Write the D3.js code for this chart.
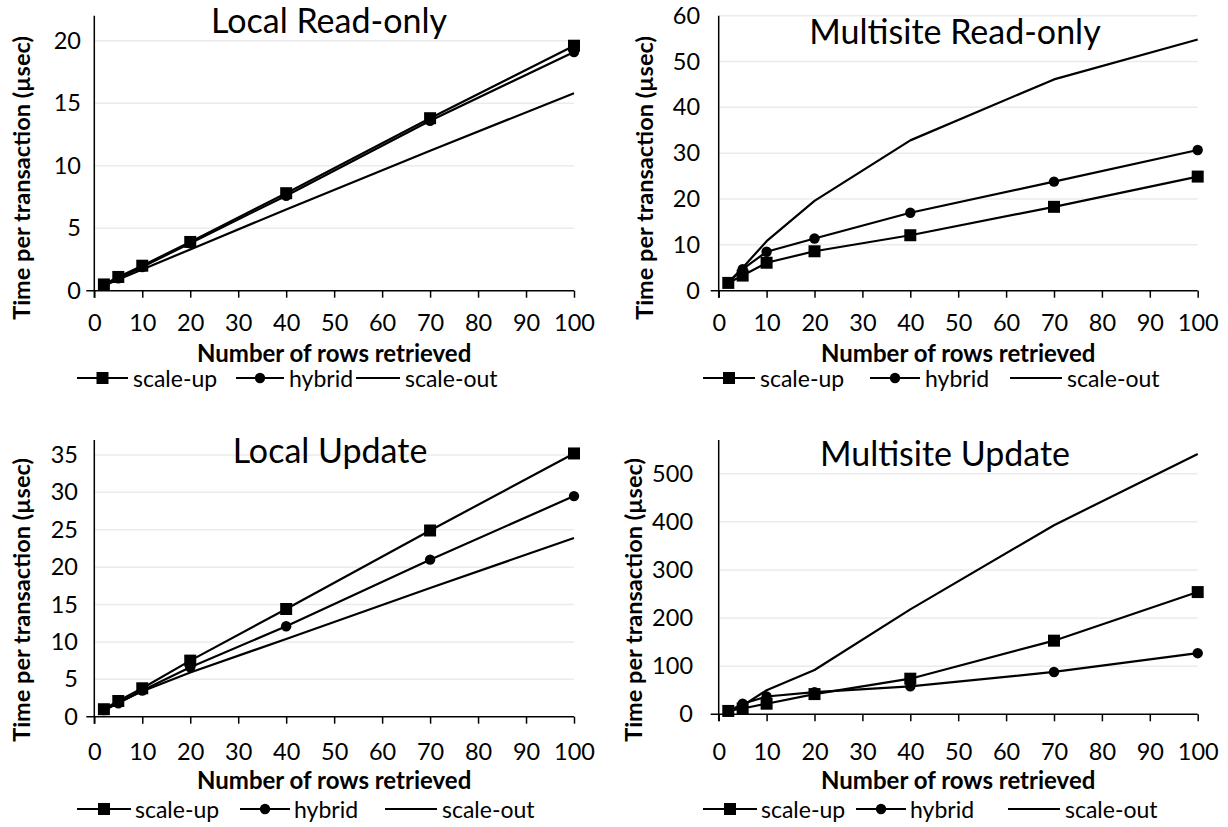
<!DOCTYPE html>
<html>
<head>
<meta charset="utf-8">
<script src="https://cdn.jsdelivr.net/npm/d3@7"></script>
<style>
  body { margin: 0; background: #fff; }
  svg { display: block; font-family: Lato, "Open Sans", sans-serif; }
</style>
</head>
<body>
<div id="viz"></div>
<script>
// rows retrieved (x values shared by all four charts)
var rows = [2, 5, 10, 20, 40, 70, 100];
var xTicks = [0, 10, 20, 30, 40, 50, 60, 70, 80, 90, 100];
var seriesNames = ['scale-up', 'hybrid', 'scale-out'];

// Local Read-only
var localReadUp = [0.5, 1.1, 2.0, 3.9, 7.8, 13.8, 19.6];
var localReadHybrid = [0.5, 1.0, 1.9, 3.8, 7.6, 13.6, 19.1];
var localReadOut = [0.4, 0.9, 1.7, 3.3, 6.5, 11.2, 15.8];
var localReadTicks = [0, 5, 10, 15, 20];

// Multisite Read-only
var multiReadUp = [1.7, 3.3, 6.1, 8.6, 12.1, 18.3, 24.9];
var multiReadHybrid = [1.8, 4.7, 8.5, 11.4, 17.0, 23.8, 30.7];
var multiReadOut = [1.8, 5.0, 10.8, 19.6, 32.8, 46.1, 54.8];
var multiReadTicks = [0, 10, 20, 30, 40, 50, 60];

// Local Update
var localUpdUp = [1.0, 2.1, 3.8, 7.5, 14.4, 24.9, 35.2];
var localUpdHybrid = [0.9, 1.8, 3.5, 6.6, 12.1, 21.0, 29.5];
var localUpdOut = [0.8, 1.9, 3.4, 5.9, 10.4, 17.2, 23.9];
var localUpdTicks = [0, 5, 10, 15, 20, 25, 30, 35];

// Multisite Update
var multiUpdUp = [7, 12, 22, 42, 74, 153, 254];
var multiUpdHybrid = [6, 22, 37, 46, 58, 88, 127];
var multiUpdOut = [6, 18, 50, 92, 218, 393, 541];
var multiUpdTicks = [0, 100, 200, 300, 400, 500];

var width = 1228, height = 827;

var svg = d3.select('#viz')
  .append('svg')
  .attr('width', width)
  .attr('height', height);

// layout of each panel (pixel positions)
var panels = [
  {title: 'Local Read-only', series: [localReadUp, localReadHybrid, localReadOut], ticks: localReadTicks, yMax: 22,
   x0: 94.3, x1: 574, y0: 290.7, y1: 15.7, titleX: 329, titleY: 33, labelRight: 81,
   yTitleX: 21, yTitleY: 178, xTickY: 323, xTitleY: 352, legendY: 378,
   legend: [[77, 128, 133], [236, 284, 289], [356, 400, 405]]},
  {title: 'Multisite Read-only', series: [multiReadUp, multiReadHybrid, multiReadOut], ticks: multiReadTicks, yMax: 60,
   x0: 718.7, x1: 1197.7, y0: 290.7, y1: 15.7, titleX: 955, titleY: 44, labelRight: 700,
   yTitleX: 644, yTitleY: 178, xTickY: 323, xTitleY: 352, legendY: 378,
   legend: [[703, 755, 760], [870, 920, 925], [1010, 1062, 1067]]},
  {title: 'Local Update', series: [localUpdUp, localUpdHybrid, localUpdOut], ticks: localUpdTicks, yMax: 37,
   x0: 94.3, x1: 574, y0: 716.7, y1: 440, titleX: 330, titleY: 463, labelRight: 78,
   yTitleX: 21, yTitleY: 600, xTickY: 752, xTitleY: 779, legendY: 809,
   legend: [[77, 131, 135], [240, 290, 294], [385, 437, 442]]},
  {title: 'Multisite Update', series: [multiUpdUp, multiUpdHybrid, multiUpdOut], ticks: multiUpdTicks, yMax: 570,
   x0: 718.7, x1: 1197.7, y0: 714.3, y1: 440, titleX: 945, titleY: 466, labelRight: 693,
   yTitleX: 633, yTitleY: 600, xTickY: 752, xTitleY: 779, legendY: 809,
   legend: [[703, 757, 761], [856, 906, 910], [1008, 1060, 1065]]}
];

var square = d3.symbol().type(d3.symbolSquare).size(144);
var circle = d3.symbol().type(d3.symbolCircle).size(85);
var markers = [square, circle, null];

panels.forEach(function(p) {
  var x = d3.scaleLinear().domain([0, 100]).range([p.x0, p.x1]);
  var y = d3.scaleLinear().domain([0, p.yMax]).range([p.y0, p.y1]);
  var g = svg.append('g');

  // gridlines
  g.append('g')
    .selectAll('line')
    .data(p.ticks.filter(function(t) { return t > 0; }))
    .join('line')
    .attr('x1', p.x0).attr('x2', p.x1)
    .attr('y1', d => y(d)).attr('y2', d => y(d))
    .attr('stroke', '#ebebeb')
    .attr('stroke-width', 1.5);

  // y axis
  var yAxis = g.append('g')
    .attr('transform', 'translate(' + p.x0 + ',0)')
    .call(d3.axisLeft(y).tickValues(p.ticks).tickSize(0).tickPadding(p.x0 - p.labelRight));
  yAxis.select('.domain').remove();
  yAxis.selectAll('text')
    .attr('font-size', 23.5)
    .attr('fill', '#000')
    .attr('font-family', 'Lato, sans-serif');
  g.append('line')
    .attr('x1', p.x0).attr('x2', p.x0)
    .attr('y1', p.y1).attr('y2', p.y0 + 7)
    .attr('stroke', '#000').attr('stroke-width', 1.5);

  // x axis
  var xAxis = g.append('g')
    .attr('transform', 'translate(0,' + p.y0 + ')')
    .call(d3.axisBottom(x).tickValues(xTicks).tickSize(7).tickPadding(p.xTickY - p.y0 - 16));
  xAxis.select('.domain').remove();
  xAxis.selectAll('line').attr('stroke', '#000').attr('stroke-width', 1.5);
  xAxis.selectAll('text')
    .attr('font-size', 23.5)
    .attr('fill', '#000')
    .attr('font-family', 'Lato, sans-serif');
  g.append('line')
    .attr('x1', p.x0 - 8).attr('x2', p.x1)
    .attr('y1', p.y0).attr('y2', p.y0)
    .attr('stroke', '#000').attr('stroke-width', 1.5);

  // lines and markers
  var line = d3.line()
    .x(function(d, i) { return x(rows[i]); })
    .y(function(d) { return y(d); });

  p.series.forEach(function(values, s) {
    g.append('path')
      .datum(values)
      .attr('d', line)
      .attr('fill', 'none')
      .attr('stroke', '#000')
      .attr('stroke-width', 2.2)
      .attr('stroke-linejoin', 'round');
    if (markers[s]) {
      g.append('g')
        .selectAll('path')
        .data(values)
        .join('path')
        .attr('d', markers[s])
        .attr('transform', function(d, i) { return 'translate(' + x(rows[i]) + ',' + y(d) + ')'; })
        .attr('fill', '#000');
    }
  });

  // title
  g.append('text')
    .attr('x', p.titleX)
    .attr('y', p.titleY)
    .attr('text-anchor', 'middle')
    .attr('font-size', 34)
    .attr('fill', '#000')
    .text(p.title);

  // axis titles
  g.append('text')
    .attr('x', (p.x0 + p.x1) / 2)
    .attr('y', p.xTitleY)
    .attr('text-anchor', 'middle')
    .attr('dominant-baseline', 'central')
    .attr('font-size', 24)
    .attr('font-weight', 'bold')
    .attr('fill', '#000')
    .text('Number of rows retrieved');

  g.append('text')
    .attr('transform', 'translate(' + p.yTitleX + ',' + p.yTitleY + ') rotate(-90)')
    .attr('text-anchor', 'middle')
    .attr('dominant-baseline', 'central')
    .attr('font-size', 23.5)
    .attr('font-weight', 'bold')
    .attr('fill', '#000')
    .text('Time per transaction (\u00b5sec)');

  // legend
  var leg = g.append('g');
  p.legend.forEach(function(l, s) {
    leg.append('line')
      .attr('x1', l[0]).attr('x2', l[1])
      .attr('y1', p.legendY).attr('y2', p.legendY)
      .attr('stroke', '#000').attr('stroke-width', 2.2);
    if (markers[s]) {
      leg.append('path')
        .attr('d', markers[s])
        .attr('transform', 'translate(' + ((l[0] + l[1]) / 2) + ',' + p.legendY + ')')
        .attr('fill', '#000');
    }
    leg.append('text')
      .attr('x', l[2])
      .attr('y', p.legendY)
      .attr('dominant-baseline', 'central')
      .attr('font-size', 23)
      .attr('fill', '#000')
      .text(seriesNames[s]);
  });
});
</script>
</body>
</html>
